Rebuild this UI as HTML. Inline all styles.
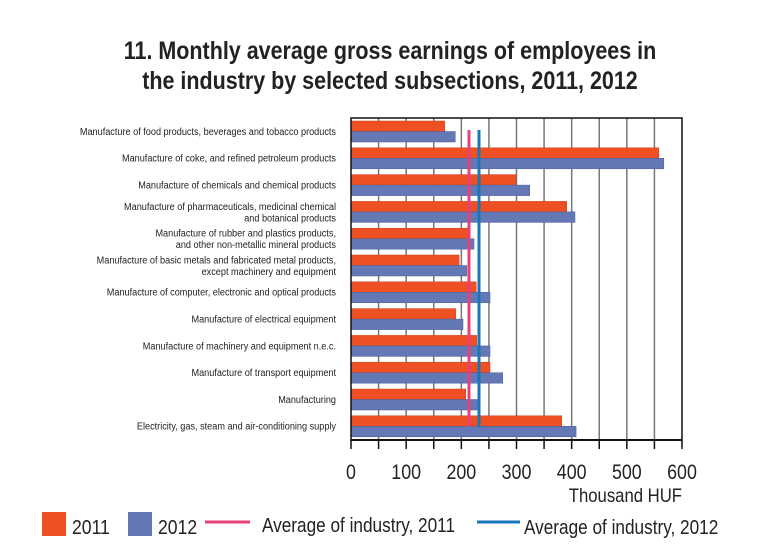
<!DOCTYPE html>
<html><head><meta charset="utf-8"><style>
html,body{margin:0;padding:0;background:#fff;}
svg{display:block;font-family:"Liberation Sans",sans-serif;}
</style></head><body>
<svg width="780" height="550" viewBox="0 0 780 550">
<g font-weight="bold" font-size="25" fill="#222" text-anchor="middle">
<text transform="translate(390,59) scale(0.86,1)">11. Monthly average gross earnings of employees in</text>
<text transform="translate(390,89) scale(0.86,1)">the industry by selected subsections, 2011, 2012</text>
</g>
<g id="grid" stroke="#777" stroke-width="1.5"></g>
<g id="bars"></g>
<line x1="469" y1="130" x2="469" y2="427" stroke="#e8417a" stroke-width="3"/>
<line x1="479" y1="130" x2="479" y2="427" stroke="#1a76bb" stroke-width="3"/>
<rect x="351" y="118" width="331" height="322" fill="none" stroke="#111" stroke-width="1.5"/>
<line x1="351" y1="440" x2="682" y2="440" stroke="#111" stroke-width="2"/>
<g id="ticks" stroke="#111" stroke-width="1.5"></g>
<g id="tl" font-size="21" fill="#222" text-anchor="middle"></g>
<text transform="translate(682,502) scale(0.88,1)" text-anchor="end" font-size="19" fill="#222">Thousand HUF</text>
<g id="labels" font-size="10.5" fill="#222" text-anchor="end"></g>
<rect x="42" y="512" width="24" height="24" fill="#ef5023"/>
<text transform="translate(72,534) scale(0.88,1)" font-size="20" fill="#222">2011</text>
<rect x="128" y="512" width="24" height="24" fill="#6478b6"/>
<text transform="translate(158,534) scale(0.88,1)" font-size="20" fill="#222">2012</text>
<line x1="205" y1="522" x2="250" y2="522" stroke="#e8417a" stroke-width="3"/>
<text transform="translate(262,532) scale(0.86,1)" font-size="20" fill="#222">Average of industry, 2011</text>
<line x1="477" y1="522" x2="520" y2="522" stroke="#1a76bb" stroke-width="3"/>
<text transform="translate(524,534) scale(0.86,1)" font-size="20" fill="#222">Average of industry, 2012</text>
</svg>
<script>
var ns="http://www.w3.org/2000/svg";
function el(p,t,a,txt){var e=document.createElementNS(ns,t);for(var k in a)e.setAttribute(k,a[k]);if(txt)e.textContent=txt;document.getElementById(p).appendChild(e);return e;}
var x0=351,s=331/600;
for(var v=50;v<600;v+=50){el("grid","line",{x1:x0+v*s,y1:118,x2:x0+v*s,y2:440});}
for(var v=0;v<=600;v+=50){el("ticks","line",{x1:x0+v*s,y1:440,x2:x0+v*s,y2:449});}
for(var v=0;v<=600;v+=100){el("tl","text",{transform:"translate("+(x0+v*s)+",479) scale(0.85,1)"},String(v));}
var d=[[170,189],[558,567],[299,324],[391,406],[212,223],[196,210],[227,252],[190,203],[228,252],[252,275],[208,234],[382,408]];
var L=[["Manufacture of food products, beverages and tobacco products"],["Manufacture of coke, and refined petroleum products"],["Manufacture of chemicals and chemical products"],["Manufacture of pharmaceuticals, medicinal chemical","and botanical products"],["Manufacture of rubber and plastics products,","and other non-metallic mineral products"],["Manufacture of basic metals and fabricated metal products,","except machinery and equipment"],["Manufacture of computer, electronic  and optical products"],["Manufacture of electrical equipment"],["Manufacture of machinery and equipment n.e.c."],["Manufacture of transport equipment"],["Manufacturing"],["Electricity, gas, steam and air-conditioning supply"]];
for(var i=0;i<12;i++){var y=118+i*26.8;
el("bars","rect",{x:x0,y:y+3,width:d[i][0]*s,height:10.5,fill:"#ef5023",stroke:"#c8401a","stroke-width":0.5});
el("bars","rect",{x:x0,y:y+13.5,width:d[i][1]*s,height:10.5,fill:"#6478b6",stroke:"#4a5c98","stroke-width":0.5});
var c=y+13.4;
if(L[i].length==1){el("labels","text",{transform:"translate(336,"+(c+3.5)+") scale(0.87,1)"},L[i][0]);}
else{el("labels","text",{transform:"translate(336,"+(c-2)+") scale(0.87,1)"},L[i][0]);el("labels","text",{transform:"translate(336,"+(c+9.5)+") scale(0.87,1)"},L[i][1]);}
}
</script>
</body></html>
